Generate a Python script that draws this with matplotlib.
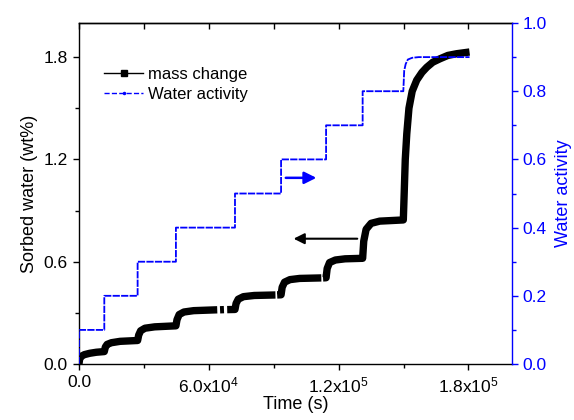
import numpy as np
import matplotlib.pyplot as plt
from matplotlib.lines import Line2D

plt.rcParams['font.family'] = ['Liberation Sans', 'DejaVu Sans']
plt.rcParams['mathtext.fontset'] = 'custom'
plt.rcParams['mathtext.rm'] = 'Liberation Sans'
plt.rcParams['mathtext.default'] = 'regular'

# mass change (wt%), nan = gap in the record
mass_t = [0, 300, 1000, 2500, 5000, 8000, 11700,
          12200, 13000, 15000, 19000, 27100,
          27600, 28500, 30500, 35000, 44800,
          45300, 46300, 48500, 53000, 63900, np.nan, 65200, 67000, np.nan, 68500, 72100,
          72600, 73600, 76000, 81000, 90800, np.nan, 91600, 93400,
          93900, 95000, 97500, 102000, 112000, np.nan, 112800, 114200,
          114700, 115800, 118500, 123000, 131100,
          131600, 132700, 135000, 139000, 149900,
          150300, 150800, 151500, 152500, 154000, 156100, 158500, 160700,
          163500, 166800, 170500, 174600, 180500]
mass_v = [0.0, 0.03, 0.045, 0.055, 0.063, 0.069, 0.073,
          0.10, 0.115, 0.125, 0.133, 0.138,
          0.17, 0.195, 0.21, 0.218, 0.224,
          0.26, 0.29, 0.305, 0.313, 0.318, np.nan, 0.318, 0.319, np.nan, 0.319, 0.320,
          0.355, 0.38, 0.395, 0.402, 0.405, np.nan, 0.405, 0.406,
          0.45, 0.48, 0.495, 0.502, 0.505, np.nan, 0.505, 0.506,
          0.56, 0.595, 0.61, 0.617, 0.62,
          0.72, 0.79, 0.825, 0.838, 0.845,
          1.0, 1.2, 1.35, 1.5, 1.6, 1.665, 1.71, 1.74,
          1.77, 1.79, 1.81, 1.82, 1.83]

# water activity steps
wa_t = [0, 0, 11700, 11700, 27100, 27100, 44800, 44800, 72100, 72100,
        93400, 93400, 114200, 114200, 131100, 131100, 149900,
        150300, 151000, 152000, 154000, 157000, 180500]
wa_v = [0, 0.1, 0.1, 0.2, 0.2, 0.3, 0.3, 0.4, 0.4, 0.5,
        0.5, 0.6, 0.6, 0.7, 0.7, 0.8, 0.8,
        0.86, 0.88, 0.893, 0.898, 0.9, 0.9]

xticks = [0, 6e4, 1.2e5, 1.8e5]
xtick_labels = ['0.0', r'6.0x10$^4$', r'1.2x10$^5$', r'1.8x10$^5$']

fig = plt.figure(figsize=(5.74, 4.2), dpi=100)
ax = fig.add_axes([0.1376, 0.1333, 0.7539, 0.8119])
ax2 = ax.twinx()

ax.plot(mass_t, mass_v, color='black', lw=5.3, solid_capstyle='butt', zorder=2)
ax2.plot(wa_t, wa_v, color='blue', lw=1.3, ls=(0, (4, 0.7)), zorder=3)

ax.set_xlim(0, 2.0e5)
ax.set_ylim(0, 2.0)
ax2.set_ylim(0, 1.0)

ax.set_xticks(xticks)
ax.set_xticklabels(xtick_labels)
ax.set_xticks(np.arange(3e4, 2e5, 6e4), minor=True)
ax.set_yticks([0, 0.6, 1.2, 1.8])
ax.set_yticklabels(['0.0', '0.6', '1.2', '1.8'])
ax.set_yticks([0.3, 0.9, 1.5], minor=True)
ax2.set_yticks([0, 0.2, 0.4, 0.6, 0.8, 1.0])
ax2.set_yticklabels(['0.0', '0.2', '0.4', '0.6', '0.8', '1.0'])
ax2.set_yticks([0.1, 0.3, 0.5, 0.7, 0.9], minor=True)

ax.tick_params(which='major', direction='out', length=4.5, width=1, labelsize=12.5)
ax.tick_params(which='minor', direction='out', length=3, width=1)
ax2.tick_params(which='major', direction='out', length=4.5, width=1, labelsize=12.5,
                colors='blue')
ax2.tick_params(which='minor', direction='out', length=3, width=1, colors='blue')

top = ax.secondary_xaxis('top')
top.set_xticks(xticks)
top.set_xticks(np.arange(3e4, 2e5, 6e4), minor=True)
top.tick_params(which='both', direction='in', length=4.5, width=1, labeltop=False)

for s in ax.spines.values():
    s.set_linewidth(1)
ax.spines['right'].set_visible(False)
ax2.spines['right'].set_color('blue')
ax2.spines['right'].set_linewidth(1)
ax2.spines['left'].set_visible(False)
ax2.spines['top'].set_visible(False)
ax2.spines['bottom'].set_visible(False)
top.spines['top'].set_linewidth(1)

ax.set_xlabel('Time (s)', fontsize=13, labelpad=1)
ax.set_ylabel('Sorbed water (wt%)', fontsize=13, labelpad=4)
ax2.set_ylabel('Water activity', fontsize=13, color='blue', labelpad=6)

# arrows pointing to the matching axis
ax.annotate('', xy=(97900, 0.735), xytext=(129900, 0.735),
            arrowprops=dict(arrowstyle='-|>', color='black', lw=1.5, mutation_scale=16))
ax2.annotate('', xy=(111000, 0.546), xytext=(94300, 0.546),
             arrowprops=dict(arrowstyle='-|>', color='blue', lw=1.8, mutation_scale=18))

handles = [Line2D([], [], color='black', lw=1, marker='s', ms=5),
           Line2D([], [], color='blue', lw=1, ls='--', marker='.', ms=3)]
ax.legend(handles, ['mass change', 'Water activity'], loc='upper left',
          bbox_to_anchor=(0.024, 0.915), frameon=False, fontsize=12,
          handlelength=2.3, handletextpad=0.3, labelspacing=0.3)

fig.savefig('out.png', dpi=100)
